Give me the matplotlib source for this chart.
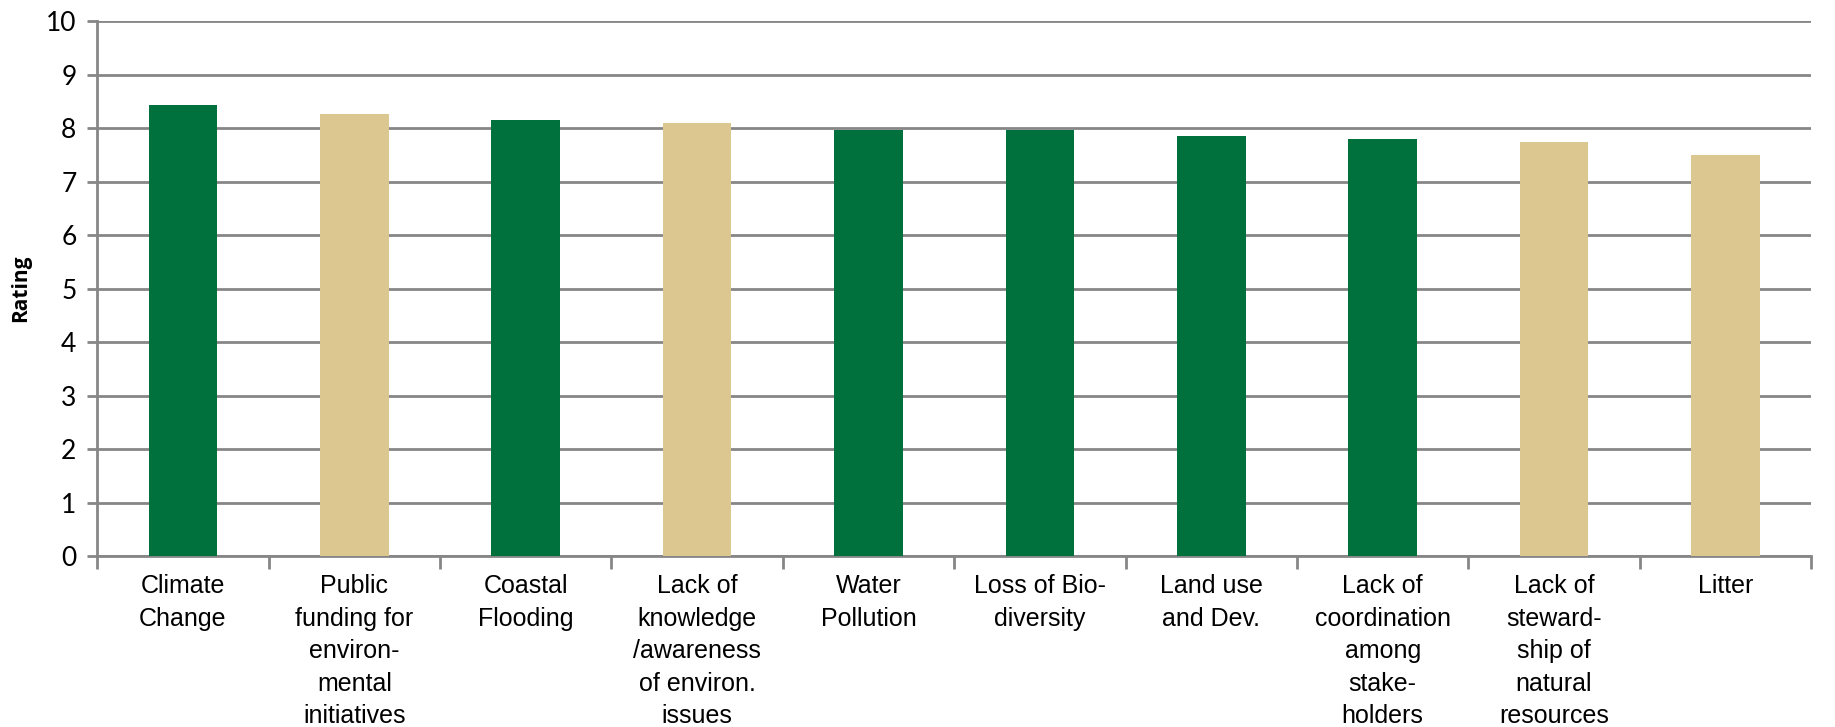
import matplotlib
matplotlib.use("Agg")
import matplotlib.pyplot as plt
import numpy as np

# Mean rating per issue
issues = [
    "Climate\nChange",
    "Public\nfunding for\nenviron-\nmental\ninitiatives",
    "Coastal\nFlooding",
    "Lack of\nknowledge\n/awareness\nof environ.\nissues",
    "Water\nPollution",
    "Loss of Bio-\ndiversity",
    "Land use\nand Dev.",
    "Lack of\ncoordination\namong\nstake-\nholders",
    "Lack of\nsteward-\nship of\nnatural\nresources",
    "Litter",
]
ratings = [8.44, 8.27, 8.16, 8.10, 7.97, 7.97, 7.86, 7.80, 7.74, 7.50]
groups = ["g", "t", "g", "t", "g", "g", "g", "g", "t", "t"]

GREEN = "#00703C"
TAN = "#DBC78F"
GRID = "#868686"


def main():
    fig = plt.figure(figsize=(18.35, 7.27), dpi=100)
    ax = fig.add_axes([0.053, 0.235, 0.934, 0.736])

    x = np.arange(len(issues))
    colors = [GREEN if g == "g" else TAN for g in groups]
    ax.bar(x, ratings, width=0.4, color=colors, zorder=3)

    ax.set_xlim(-0.5, len(issues) - 0.5)
    ax.set_ylim(0, 10)
    ax.set_yticks(range(0, 11))
    ax.yaxis.grid(True, color=GRID, linewidth=2, zorder=0)

    for side in ["top", "right"]:
        ax.spines[side].set_visible(False)
    for side in ["left", "bottom"]:
        ax.spines[side].set_color(GRID)
        ax.spines[side].set_linewidth(2)

    ax.tick_params(axis="y", direction="out", length=7, width=2, color=GRID,
                   labelsize=19, pad=8)
    for lab in ax.get_yticklabels():
        lab.set_family(["Lato", "DejaVu Sans"])

    # category labels centred, tick marks on the boundaries
    ax.set_xticks(x)
    ax.set_xticklabels(issues, fontsize=18, linespacing=1.45,
                       family=["Liberation Sans Narrow", "Liberation Sans"],
                       va="top", ha="center")
    ax.tick_params(axis="x", which="major", length=0, pad=13)
    ax.set_xticks(np.arange(-0.5, len(issues)), minor=True)
    ax.tick_params(axis="x", which="minor", direction="out", length=9, width=2,
                   color=GRID)

    ax.set_ylabel("Rating", fontsize=15, fontweight="bold",
                  family=["Open Sans", "DejaVu Sans"], labelpad=11)

    fig.savefig("out.png", dpi=100)


if __name__ == "__main__":
    main()
